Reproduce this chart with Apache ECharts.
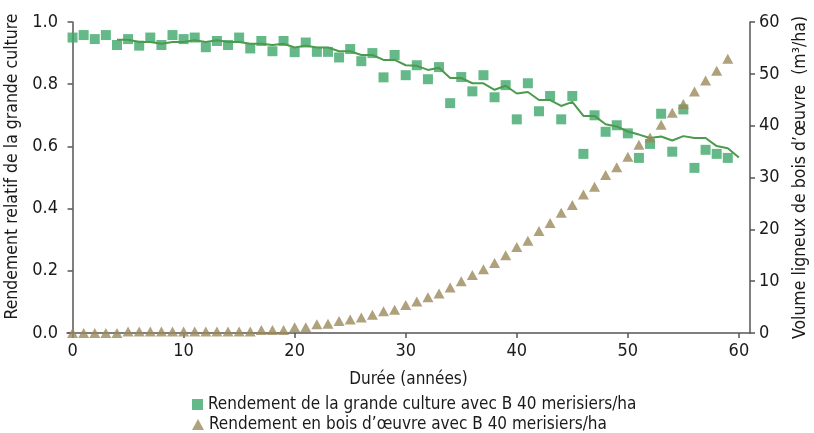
<!DOCTYPE html>
<html>
<head>
<meta charset="utf-8">
<title>Rendement grande culture / bois d'oeuvre</title>
<script src="https://cdn.jsdelivr.net/npm/echarts@6/dist/echarts.min.js"></script>
<style>
  html, body { margin: 0; padding: 0; background: #fff; }
  #chart { width: 814px; height: 433px; }
</style>
</head>
<body>
<div id="chart"></div>
<script>
// years of the scatter points
var years = [0, 1, 2, 3, 4, 5, 6, 7, 8, 9, 10, 11, 12, 13, 14, 15, 16, 17, 18, 19,
  20, 21, 22, 23, 24, 25, 26, 27, 28, 29, 30, 31, 32, 33, 34, 35, 36, 37, 38, 39,
  40, 41, 42, 43, 44, 45, 46, 47, 48, 49, 50, 51, 52, 53, 54, 55, 56, 57, 58, 59];

// relative crop yield (left axis)
var cropYield = [0.950, 0.958, 0.945, 0.958, 0.926, 0.945, 0.924, 0.950, 0.926, 0.958,
  0.945, 0.950, 0.919, 0.939, 0.926, 0.950, 0.915, 0.939, 0.906, 0.939,
  0.903, 0.934, 0.904, 0.904, 0.886, 0.913, 0.874, 0.900, 0.822, 0.894,
  0.829, 0.861, 0.816, 0.855, 0.739, 0.823, 0.777, 0.829, 0.758, 0.797,
  0.687, 0.803, 0.713, 0.762, 0.687, 0.762, 0.576, 0.700, 0.647, 0.668,
  0.642, 0.563, 0.608, 0.705, 0.583, 0.719, 0.531, 0.589, 0.576, 0.563];

// timber volume m3/ha (right axis)
var timberVolume = [0, 0, 0, 0, 0, 0.3, 0.3, 0.3, 0.3, 0.3,
  0.3, 0.3, 0.3, 0.3, 0.3, 0.3, 0.3, 0.6, 0.6, 0.6,
  1.1, 1.1, 1.7, 1.8, 2.3, 2.6, 3.0, 3.5, 4.2, 4.5,
  5.4, 6.1, 6.9, 7.6, 8.8, 10.0, 11.2, 12.3, 13.5, 15.0,
  16.6, 17.8, 19.7, 21.2, 23.2, 24.7, 26.7, 28.2, 30.5, 32.0,
  34.0, 36.3, 37.7, 40.2, 42.5, 44.2, 46.6, 48.7, 50.6, 52.9];

// trend line of the crop yield
var trendYears = [4, 5, 6, 7, 8, 9, 10, 11, 12, 13, 14, 15, 16, 17, 18, 19,
  20, 21, 22, 23, 24, 25, 26, 27, 28, 29, 30, 31, 32, 33, 34, 35, 36, 37, 38, 39,
  40, 41, 42, 43, 44, 45, 46, 47, 48, 49, 50, 51, 52, 53, 54, 55, 56, 57, 58, 59, 60];
var cropTrend = [0.943, 0.943, 0.936, 0.936, 0.930, 0.936, 0.936, 0.941, 0.936, 0.941,
  0.936, 0.936, 0.930, 0.930, 0.926, 0.930,
  0.918, 0.924, 0.918, 0.918, 0.906, 0.906, 0.894, 0.894, 0.878, 0.878,
  0.861, 0.859, 0.846, 0.853, 0.820, 0.820, 0.803, 0.803, 0.782, 0.795,
  0.770, 0.775, 0.749, 0.749, 0.730, 0.743, 0.698, 0.698, 0.671, 0.664,
  0.648, 0.638, 0.627, 0.632, 0.619, 0.633, 0.627, 0.627, 0.601, 0.594, 0.564];

var xTicks = [0, 10, 20, 30, 40, 50, 60];

var cropName = 'Rendement de la grande culture avec B 40 merisiers/ha';
var timberName = 'Rendement en bois d\u2019\u0153uvre avec B 40 merisiers/ha';

var FONT = '"DejaVu Sans Condensed", "Noto Sans", sans-serif';
var AXIS_COLOR = '#555555';
var TEXT_COLOR = '#1a1a1a';

var chart = echarts.init(document.getElementById('chart'), null, {renderer: 'canvas'});

var legendText = {fontFamily: FONT, fontSize: 17, color: TEXT_COLOR};

chart.setOption({
  animation: false,
  backgroundColor: '#ffffff',
  textStyle: {fontFamily: FONT, color: TEXT_COLOR},
  grid: {left: 67, right: 64, top: 22, bottom: 100, containLabel: false, outerBoundsMode: 'none'},
  legend: [
    {
      left: 187, top: 391, itemWidth: 11, itemHeight: 11, itemGap: 0,
      textStyle: legendText,
      data: [{name: cropName, icon: 'rect'}]
    },
    {
      left: 187, top: 411, itemWidth: 12, itemHeight: 11, itemGap: 0,
      textStyle: legendText,
      data: [{name: timberName, icon: 'triangle'}]
    }
  ],
  xAxis: {
    type: 'value',
    min: -0.5,
    max: 61,
    name: 'Dur\u00e9e (ann\u00e9es)',
    nameLocation: 'middle',
    nameGap: 38,
    nameTextStyle: {fontFamily: FONT, fontSize: 17, color: TEXT_COLOR},
    axisLine: {show: true, lineStyle: {color: AXIS_COLOR, width: 1.5}},
    axisTick: {show: true, length: 5, lineStyle: {color: AXIS_COLOR, width: 1.5}, customValues: xTicks},
    axisLabel: {fontFamily: FONT, fontSize: 18, color: TEXT_COLOR, margin: 9, customValues: xTicks},
    splitLine: {show: false}
  },
  yAxis: [
    {
      type: 'value',
      min: 0,
      max: 1,
      interval: 0.2,
      name: 'Rendement relatif de la grande culture',
      nameLocation: 'middle',
      nameRotate: 90,
      nameGap: 37,
      nameTextStyle: {fontFamily: FONT, fontSize: 17.5, color: TEXT_COLOR, padding: [0, 0, 0, 22]},
      axisLine: {show: true, lineStyle: {color: AXIS_COLOR, width: 1.5}},
      axisTick: {show: true, length: 5, lineStyle: {color: AXIS_COLOR, width: 1.5}},
      axisLabel: {
        fontFamily: FONT, fontSize: 18, color: TEXT_COLOR, margin: 9,
        formatter: function (v) { return v.toFixed(1); }
      },
      splitLine: {show: false}
    },
    {
      type: 'value',
      min: 0,
      max: 60,
      interval: 10,
      position: 'right',
      name: 'Volume ligneux de bois d\u2019\u0153uvre  (m\u00b3/ha)',
      nameLocation: 'middle',
      nameRotate: 90,
      nameGap: 41,
      nameTextStyle: {fontFamily: FONT, fontSize: 17.5, color: TEXT_COLOR},
      axisLine: {show: true, lineStyle: {color: AXIS_COLOR, width: 1.5}},
      axisTick: {show: true, length: 5, lineStyle: {color: AXIS_COLOR, width: 1.5}},
      axisLabel: {fontFamily: FONT, fontSize: 18, color: TEXT_COLOR, margin: 9},
      splitLine: {show: false}
    }
  ],
  series: [
    {
      name: cropName,
      type: 'scatter',
      yAxisIndex: 0,
      symbol: 'rect',
      symbolSize: 10,
      itemStyle: {color: '#3ea86a'},
      z: 2,
      data: years.map(function (y, i) { return [y, cropYield[i]]; })
    },
    {
      name: 'Tendance',
      type: 'line',
      yAxisIndex: 0,
      showSymbol: false,
      symbol: 'none',
      lineStyle: {color: '#4b9a4d', width: 2},
      z: 3,
      data: trendYears.map(function (y, i) { return [y, cropTrend[i]]; })
    },
    {
      name: timberName,
      type: 'scatter',
      yAxisIndex: 1,
      symbol: 'triangle',
      symbolSize: [11, 10],
      itemStyle: {color: '#9a8a5a'},
      z: 4,
      data: years.map(function (y, i) { return [y, timberVolume[i]]; })
    }
  ]
});
</script>
</body>
</html>
